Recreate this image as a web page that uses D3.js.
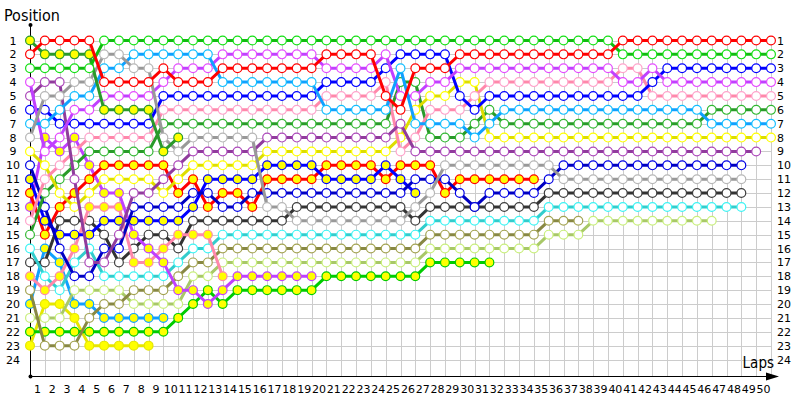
<!DOCTYPE html>
<html>
<head>
<meta charset="utf-8">
<script src="https://cdn.jsdelivr.net/npm/d3@7/dist/d3.min.js"></script>
<style>
  body { margin: 0; background: #fff; }
  svg text { font-family: "DejaVu Sans", Verdana, sans-serif; fill: #000; }
  svg text.title { font-family: "DejaVu Sans Condensed", "DejaVu Sans", sans-serif; }
</style>
</head>
<body>
<svg id="chart" width="800" height="400"></svg>
<script>
// position of every driver at the end of each lap (lap 0 = grid)
var greenW   = [3,3,3,3,3, 1,1,1,1,1,1,1,1,1,1,1,1,1,1,1,1,1,1,1,1,1,1,1,1,1,1,1,1,1,1,1,1,1,1,1, 2,2,2,2,2,2,2,2,2,2,2];
var redW     = [2,1,1,1,1,4,4,4,4,3,4,4,4,3,3,3,3,3,3,3,2,2,2,2,5,6,3,3,3,2,2,2,2,2,2,2,2,2,2,2,1,1,1,1,1,1,1,1,1,1,1];
var dkGreenY = [1,2,2,2,2,6,6,6,6,9,8];
var grayW    = [8,5,5,4,4,2,2,3,3,8,9,8,8,8,8,8,13,13,14,14,14,14,14,14,14,14,13,12,10,10,10,10,10,10,10,10,11,11,11,11,11,11,11,11,11,11,11,11,11];
var ltBlueW  = [7,7,6,5,5,3,3,2,2,2,2,2,2,4,4,4,4,4,4,4,6,6,6,6,6,3,7,7,7,7,8,7,6,6,6,6,6,6,6,6,6,6,6,6,6,6,7,7,7,7,7];
var violetW  = [4,9,8,6,6,5,5,5,5,4,3,3,3,2,2,2,2,2,2,2,3,3,3,3,2,5,5,4,4,3,3,3,3,3,3,3,3,3,3,3,4,4,3,4,4,4,4,4,4,4,4];
var purpleW  = [5,4,4,11,17,17,15,12,12,11,10,9,9,9,9,9,8,8,8,8,8,8,8,8,8,7,9,9,9,9,9,9,9,9,9,9,9,9,9,9,9,9,9,9,9,9,9,9,9,9];
var blueW    = [6,6,7,7,7,7,7,7,7,5,5,5,5,5,5,5,5,5,5,5,4,4,4,4,3,2,2,2,2,5,6,5,5,5,5,5,5,5,5,5,5,5,4,3,3,3,3,3,3,3,3];
var pinkW    = [14,11,10,9,8,8,8,8,8,6,6,6,6,6,6,6,6,6,6,6,5,5,5,5,4,9,8,6,6,6,5,4,4,4,4,4,4,4,4,4,3,3,5,5,5,5,5,5,5,5,5];
var yellowW  = [9,10,12,13,12,11,11,11,11,12,11,10,10,10,10,10,9,9,9,9,9,9,9,9,9,8,6,5,5,4,4,8,8,8,8,8,8,8,8,8,8,8,8,8,8,8,8,8,8,8,8];
var dkGreenW = [15,12,11,10,9,9,9,9,9,7,7,7,7,7,7,7,7,7,7,7,7,7,7,7,7,4,4,8,8,8,7,6,7,7,7,7,7,7,7,7,7,7,7,7,7,7,6,6,6,6,6];
var dkBlueW  = [10,13,16,18,18,16,16,13,13,13,13,12,12,13,13,12,12,12,12,12,12,12,12,12,12,12,11,11,11,12,13,12,12,12,12,11,10,10,10,10,10,10,10,10,10,10,10,10,10];
var blueY    = [11,14,15,15,15,14,14,14,14,14,14,13,11,11,11,11,10,10,10,10,11,11,11,11,10,11,12];
var redY     = [12,15,13,12,11,10,10,10,10,10,12,11,13,12,12,13,11,11,11,11,10,10,10,10,11,10,10,10,12,11,11,11,11,11,11];
var violetY  = [13,8,9,8,10,12,12,15,16,17,19,19,20,19,18,18,18,18,18,18];
var pinkY    = [18,19,18,16,13,13,13,17,17,16,15,15,15,18];
var cyanW    = [16,18,19,17,16,18,18,18,18,18,17,16,16,15,15,15,15,15,15,15,15,15,15,15,15,15,15,14,14,14,14,14,14,14,14,13,13,13,13,13,13,13,13,13,13,13,13,13,13];
var blackW   = [17,17,14,14,14,15,17,16,15,15,16,14,14,14,14,14,14,14,13,13,13,13,13,13,13,13,14,13,13,13,13,13,13,13,13,12,12,12,12,12,12,12,12,12,12,12,12,12,12];
var oliveW   = [19,23,23,23,21,20,20,19,19,19,18,17,17,16,16,16,16,16,16,16,16,16,16,16,16,16,16,15,15,15,15,15,15,15,15,14,14,14];
var ltOliveW = [21,21,21,19,19,19,19,20,20,20,20,18,18,17,17,17,17,17,17,17,17,17,17,17,17,17,17,16,16,16,16,16,16,16,16,15,15,15,14,14,14,14,14,14,14,14,14];
var greenY   = [22,22,22,22,22,22,22,22,22,22,21,20,19,20,19,19,19,19,19,19,18,18,18,18,18,18,18,17,17,17,17,17];
var ltBlueY  = [20,16,17,20,20,21,21,21,21,21];
var yellowY  = [23,20,20,21,23,23,23,23,23];

var positions = d3.range(1, 25);
var lapTicks = d3.range(1, 51);

// drawing order + look of each series
var series = [
  {v: yellowY,  c: "#e6e600", f: "#ffff00"},
  {v: ltBlueY,  c: "#10a0ff", f: "#ffff00"},
  {v: greenY,   c: "#00cc00", f: "#ffff00"},
  {v: ltOliveW, c: "#a8c868", f: "#fff"},
  {v: oliveW,   c: "#888844", f: "#fff"},
  {v: blackW,   c: "#333333", f: "#fff"},
  {v: cyanW,    c: "#33cccc", f: "#fff"},
  {v: pinkY,    c: "#ff88aa", f: "#ffff00"},
  {v: violetY,  c: "#c040ff", f: "#ffff00"},
  {v: redY,     c: "#ff0000", f: "#ffff00"},
  {v: blueY,    c: "#0000ff", f: "#ffff00"},
  {v: dkBlueW,  c: "#0000c0", f: "#fff"},
  {v: dkGreenW, c: "#2a9a2a", f: "#fff"},
  {v: yellowW,  c: "#dddd00", f: "#fff"},
  {v: pinkW,    c: "#ff88aa", f: "#fff"},
  {v: blueW,    c: "#0000ff", f: "#fff"},
  {v: purpleW,  c: "#903c9c", f: "#fff"},
  {v: violetW,  c: "#c040ff", f: "#fff"},
  {v: ltBlueW,  c: "#10a0ff", f: "#fff"},
  {v: grayW,    c: "#999999", f: "#fff"},
  {v: dkGreenY, c: "#2a9a2a", f: "#ffff00"},
  {v: greenW,   c: "#11bb11", f: "#fff"},
  {v: redW,     c: "#ff0000", f: "#fff"}
];

var svg = d3.select("#chart");

var x = d3.scaleLinear().domain([0, 50]).range([30, 771]);
var y = d3.scaleLinear().domain([1, 24]).range([40.5, 359.5]);
var axisY = 376;

// grid
var grid = svg.append("g").attr("stroke", "#cccccc").attr("stroke-width", 1);
grid.selectAll(".v").data(lapTicks).enter().append("line")
  .attr("x1", d => Math.round(x(d)) + 0.5).attr("x2", d => Math.round(x(d)) + 0.5)
  .attr("y1", y(1)).attr("y2", axisY);
grid.selectAll(".h").data(positions).enter().append("line")
  .attr("x1", x(0)).attr("x2", x(50))
  .attr("y1", d => Math.round(y(d)) + 0.5).attr("y2", d => Math.round(y(d)) + 0.5);

// axes lines
svg.append("line").attr("x1", 30.5).attr("x2", 30.5).attr("y1", 25).attr("y2", axisY)
  .attr("stroke", "#000").attr("stroke-width", 1);
svg.append("line").attr("x1", 30).attr("x2", 772).attr("y1", axisY + 0.5).attr("y2", axisY + 0.5)
  .attr("stroke", "#000").attr("stroke-width", 1);
svg.append("path").attr("d", "M766,372.5 L779,376.5 L766,380.5 Z").attr("fill", "#000");
svg.append("circle").attr("cx", 30.5).attr("cy", 25).attr("r", 2).attr("fill", "#000");
svg.append("circle").attr("cx", 30.5).attr("cy", axisY + 0.5).attr("r", 2).attr("fill", "#000");

// tick labels
svg.append("g").selectAll("text").data(positions).enter().append("text")
  .attr("x", 13).attr("y", d => y(d) + 4).attr("text-anchor", "middle")
  .attr("font-size", 11).text(d => d);
svg.append("g").selectAll("text").data(positions).enter().append("text")
  .attr("x", 777).attr("y", d => y(d) + 4).attr("text-anchor", "start")
  .attr("font-size", 11).text(d => d);
svg.append("g").selectAll("text").data(lapTicks).enter().append("text")
  .attr("x", d => x(d - 0.5)).attr("y", 393).attr("text-anchor", "middle")
  .attr("font-size", 11).text(d => d);

svg.append("text").attr("class", "title").attr("x", 4).attr("y", 21).attr("font-size", 16).text("Position");
svg.append("text").attr("class", "title").attr("x", 774).attr("y", 368).attr("text-anchor", "end")
  .attr("font-size", 15).text("Laps");

// series
var line = d3.line().x((d, i) => x(i)).y(d => y(d));
series.forEach(function(s) {
  var g = svg.append("g");
  g.append("path").attr("d", line(s.v)).attr("fill", "none")
    .attr("stroke", s.c).attr("stroke-width", 3).attr("stroke-linejoin", "round");
  g.selectAll("circle").data(s.v).enter().append("circle")
    .attr("cx", (d, i) => x(i)).attr("cy", d => y(d)).attr("r", 4.4)
    .attr("fill", s.f)
    .attr("stroke", s.f === "#fff" ? d3.color(s.c).brighter(0.5).formatHex() : s.c)
    .attr("stroke-width", 1.2);
});
</script>
</body>
</html>
